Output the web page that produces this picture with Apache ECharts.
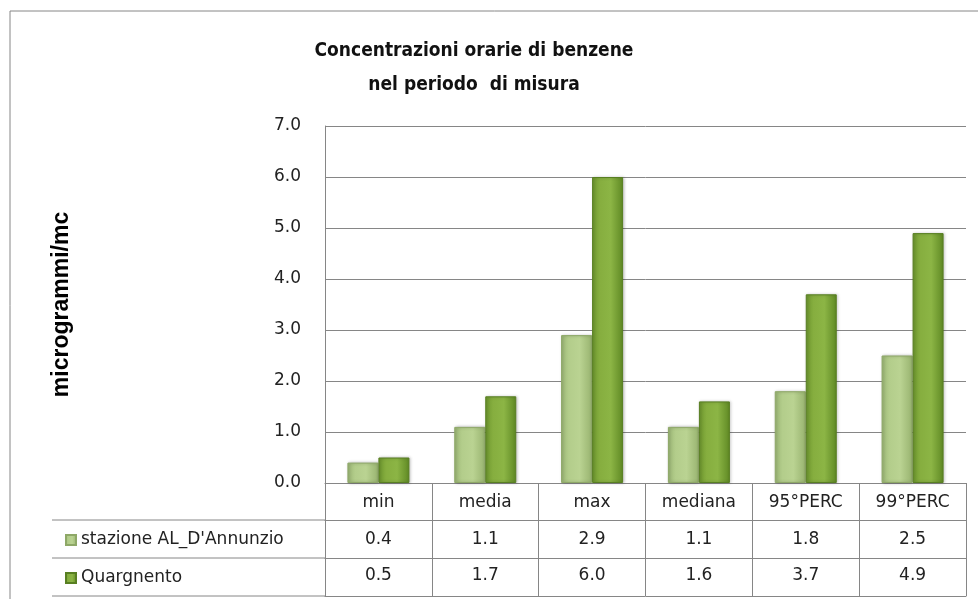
<!doctype html>
<html lang="it">
<head>
    <meta charset="UTF-8">
    <title>Concentrazioni orarie di benzene</title>
    <script src="https://cdn.jsdelivr.net/npm/echarts@6/dist/echarts.min.js"></script>
    <style>
        html, body { margin: 0; padding: 0; background: #fff; }
    </style>
</head>
<body>
    <div id="main" style="width: 978px;height:599px;"></div>
    <script>
        // dati
        var categorie = ['min', 'media', 'max', 'mediana', '95°PERC', '99°PERC'];
        var nomiSerie = ["stazione AL_D'Annunzio", 'Quargnento'];
        var dAnnunzio = [0.4, 1.1, 2.9, 1.1, 1.8, 2.5];
        var quargnento = [0.5, 1.7, 6.0, 1.6, 3.7, 4.9];
        var yTicks = [0, 1, 2, 3, 4, 5, 6, 7];

        var FONT = "'DejaVu Sans', sans-serif";
        var FONT_TITOLO = "'DejaVu Sans Condensed', 'Liberation Sans Narrow', sans-serif";
        var GRIGIO = '#868686';

        var myChart = echarts.init(document.getElementById('main'));

        var chiaro = new echarts.graphic.LinearGradient(0, 0, 1, 0, [
            {offset: 0, color: '#9cb776'},
            {offset: 0.25, color: '#b3cd8b'},
            {offset: 0.6, color: '#bad392'},
            {offset: 1, color: '#98b36f'}
        ]);
        var scuro = new echarts.graphic.LinearGradient(0, 0, 1, 0, [
            {offset: 0, color: '#6d972e'},
            {offset: 0.25, color: '#86ae3f'},
            {offset: 0.6, color: '#8cb545'},
            {offset: 1, color: '#5f8924'}
        ]);

        function rigaTabella(offset, valori, margine) {
            return {
                type: 'category',
                gridIndex: 0,
                position: 'bottom',
                offset: offset,
                data: categorie,
                axisLine: {show: true, lineStyle: {color: GRIGIO, width: 1}},
                axisTick: {show: valori !== null, length: 38, lineStyle: {color: GRIGIO}},
                axisLabel: {
                    show: valori !== null,
                    interval: 0,
                    margin: margine,
                    verticalAlign: 'middle',
                    fontFamily: FONT,
                    fontSize: 17,
                    color: '#222',
                    formatter: function (v, i) { return valori ? valori[i].toFixed(1) : ''; }
                },
                splitLine: {show: false}
            };
        }

        var linee = [520, 558, 596].map(function (y) {
            return {
                type: 'line',
                shape: {x1: 52, y1: y, x2: 325, y2: y},
                style: {stroke: GRIGIO, lineWidth: 1}
            };
        });

        myChart.setOption({
            backgroundColor: '#fff',
            animation: false,
            title: {
                text: 'Concentrazioni orarie di benzene\nnel periodo  di misura',
                left: 469,
                top: 29,
                textAlign: 'center',
                textStyle: {
                    fontFamily: FONT_TITOLO,
                    fontSize: 19,
                    fontWeight: 'bold',
                    color: '#111',
                    lineHeight: 34
                }
            },
            legend: {
                orient: 'vertical',
                left: 60,
                top: 526,
                itemWidth: 10,
                itemHeight: 10,
                itemGap: 20,
                icon: 'rect',
                data: nomiSerie,
                textStyle: {fontFamily: FONT, fontSize: 17, lineHeight: 18, color: '#222'}
            },
            grid: {left: 325, right: 12, top: 126, bottom: 116},
            xAxis: [
                {
                    type: 'category',
                    data: categorie,
                    axisLine: {show: true, lineStyle: {color: GRIGIO, width: 1}},
                    axisTick: {show: true, length: 37, lineStyle: {color: GRIGIO}},
                    axisLabel: {
                        interval: 0,
                        margin: 20,
                        verticalAlign: 'middle',
                        fontFamily: FONT,
                        fontSize: 17,
                        color: '#222'
                    }
                },
                rigaTabella(37, dAnnunzio, 20),
                rigaTabella(75, quargnento, 18),
                rigaTabella(113, null, 0)
            ],
            yAxis: {
                type: 'value',
                min: yTicks[0],
                max: yTicks[yTicks.length - 1],
                interval: 1,
                name: 'microgrammi/mc',
                nameLocation: 'middle',
                nameRotate: 90,
                nameGap: 252,
                nameTextStyle: {
                    fontFamily: "'Liberation Sans', Arial, sans-serif",
                    fontSize: 23,
                    fontWeight: 'bold',
                    color: '#000'
                },
                axisLine: {show: true, lineStyle: {color: GRIGIO}},
                axisTick: {show: false},
                axisLabel: {
                    margin: 24,
                    fontFamily: FONT,
                    fontSize: 17,
                    color: '#222',
                    formatter: function (v) { return v.toFixed(1); }
                },
                splitLine: {lineStyle: {color: GRIGIO, width: 1}}
            },
            series: [{
                name: nomiSerie[0],
                type: 'bar',
                barWidth: 31,
                barGap: '0%',
                itemStyle: {
                    color: chiaro,
                    borderColor: '#8ea867',
                    borderWidth: 1,
                    shadowColor: 'rgba(0,0,0,0.25)',
                    shadowBlur: 3,
                    shadowOffsetX: 1
                },
                data: dAnnunzio
            }, {
                name: nomiSerie[1],
                type: 'bar',
                barWidth: 31,
                barGap: '0%',
                itemStyle: {
                    color: scuro,
                    borderColor: '#587f22',
                    borderWidth: 1,
                    shadowColor: 'rgba(0,0,0,0.25)',
                    shadowBlur: 3,
                    shadowOffsetX: 1
                },
                data: quargnento
            }],
            graphic: [{
                type: 'rect',
                z: -10,
                shape: {x: 10, y: 11, width: 1000, height: 700},
                style: {fill: null, stroke: GRIGIO, lineWidth: 1}
            }].concat(linee)
        });
    </script>
</body>
</html>
